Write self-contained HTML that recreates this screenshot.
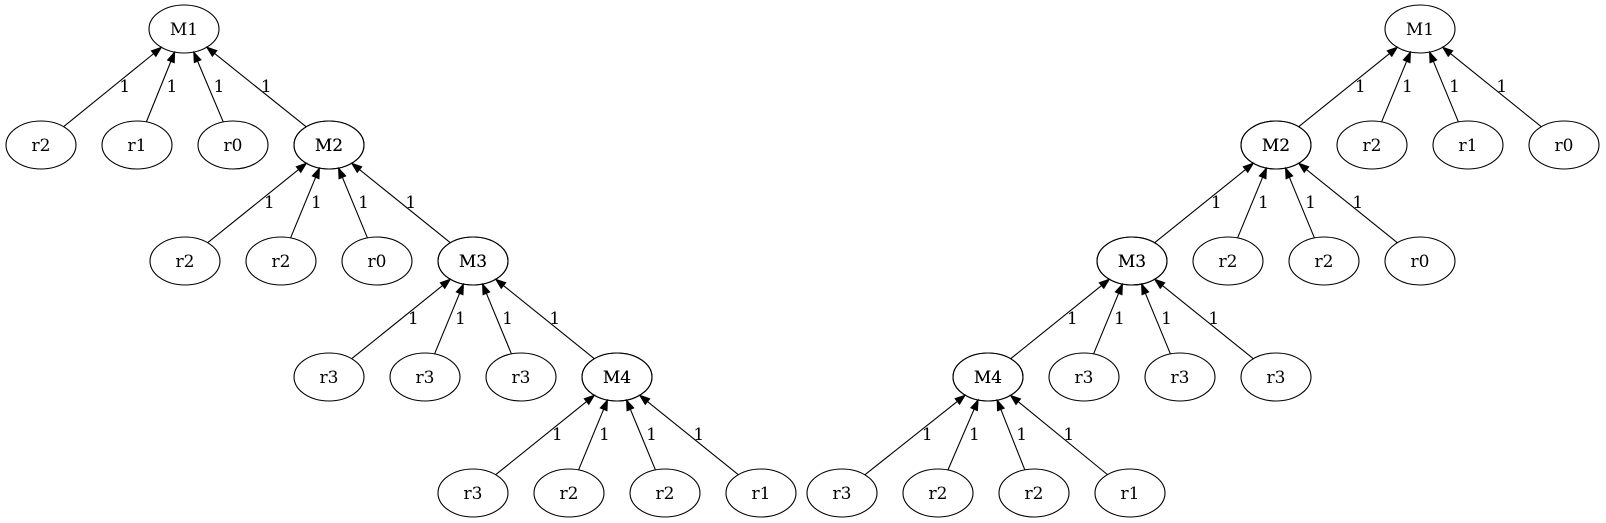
<!DOCTYPE html>
<html><head><meta charset="utf-8"><style>
html,body{margin:0;padding:0;background:#fff;}
svg{display:block}
text{font-family:"DejaVu Serif","Liberation Serif",serif;font-size:17px;fill:#000}
</style></head><body>
<svg id="s" width="1606" height="523" viewBox="0 0 1606 523" xmlns="http://www.w3.org/2000/svg"></svg>
<script>
var s=document.getElementById('s'),NS='http://www.w3.org/2000/svg';
var RX=35,RY=24,rows=[29,145,261,377,493];
function el(t,a,txt){var e=document.createElementNS(NS,t);for(var k in a)e.setAttribute(k,a[k]);if(txt)e.textContent=txt;s.appendChild(e);return e;}
function node(x,y,l){el('ellipse',{cx:x,cy:y,rx:RX,ry:RY,fill:'none',stroke:'#000','stroke-width':1.1});el('text',{x:x,y:y+6,'text-anchor':'middle'},l);}
function bnd(cx,cy,dx,dy){var d=Math.sqrt(dx*dx+dy*dy),ux=dx/d,uy=dy/d;var t=1/Math.sqrt(ux*ux/(RX*RX)+uy*uy/(RY*RY));return [cx+ux*t,cy+uy*t,ux,uy];}
function edge(cx,cy,px,py){
 var a=bnd(cx,cy,px-cx,py-cy),b=bnd(px,py,cx-px,cy-py);
 var ux=b[2],uy=b[3];var L=10,W=3.6;
 var bx=b[0]+ux*L,by=b[1]+uy*L;
 el('line',{x1:a[0],y1:a[1],x2:bx,y2:by,stroke:'#000','stroke-width':1.1});
 el('polygon',{points:b[0]+','+b[1]+' '+(bx-uy*W)+','+(by+ux*W)+' '+(bx+uy*W)+','+(by-ux*W),fill:'#000',stroke:'#000'});
 var ly=py+57;var t=(ly-a[1])/(b[1]-a[1]);var lx=a[0]+t*(b[0]-a[0]);
 el('text',{x:lx+11,y:ly+6,'text-anchor':'middle'},'1');
}
function tree(levels){
 levels.forEach(function(L,i){
  node(L.p[0],rows[i],L.p[1]);
  if(L.c){L.c.forEach(function(c){node(c[0],rows[i+1],c[1]);edge(c[0],rows[i+1],L.p[0],rows[i]);});}
 });
}
tree([
 {p:[184,'M1'],c:[[41,'r2'],[137,'r1'],[233,'r0'],[329,'M2']]},
 {p:[329,'M2'],c:[[185,'r2'],[281,'r2'],[377,'r0'],[473,'M3']]},
 {p:[473,'M3'],c:[[329,'r3'],[425,'r3'],[521,'r3'],[617,'M4']]},
 {p:[617,'M4'],c:[[473,'r3'],[569,'r2'],[665,'r2'],[761,'r1']]}
]);
tree([
 {p:[1420,'M1'],c:[[1276,'M2'],[1372,'r2'],[1468,'r1'],[1564,'r0']]},
 {p:[1276,'M2'],c:[[1132,'M3'],[1228,'r2'],[1324,'r2'],[1420,'r0']]},
 {p:[1132,'M3'],c:[[988,'M4'],[1084,'r3'],[1180,'r3'],[1276,'r3']]},
 {p:[988,'M4'],c:[[842,'r3'],[938,'r2'],[1034,'r2'],[1130,'r1']]}
]);
</script>
</body></html>
